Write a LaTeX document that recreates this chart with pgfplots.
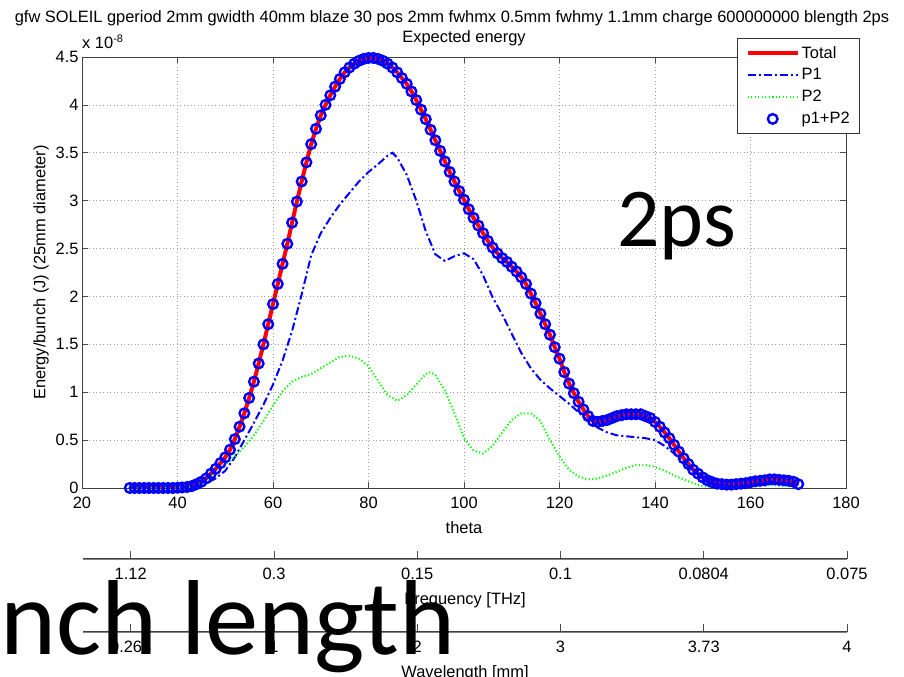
\documentclass[border=0pt]{standalone}
\usepackage{pgfplots}
\pgfplotsset{compat=1.18}
\usepackage{pgfplotstable}
\usepackage{fontspec}
\setmainfont{Liberation Sans}
\newfontfamily\slidefont{Carlito}

% theta vs energy (units of 1e-8 J)
\pgfplotstableread{
x y
30 0
31 0
32 0
33 0
34 0
35 0
36 0
37 0
38 0
39 0
40 0.003
41 0.006
42 0.010
43 0.020
44 0.040
45 0.065
46 0.10
47 0.15
48 0.20
49 0.26
50 0.32
51 0.40
52 0.51
53 0.64
54 0.78
55 0.94
56 1.11
57 1.30
58 1.50
59 1.71
60 1.92
61 2.13
62 2.34
63 2.55
64 2.77
65 2.99
66 3.20
67 3.40
68 3.59
69 3.75
70 3.89
71 4.00
72 4.10
73 4.19
74 4.27
75 4.34
76 4.39
77 4.43
78 4.46
79 4.48
80 4.49
81 4.49
82 4.48
83 4.46
84 4.43
85 4.39
86 4.34
87 4.28
88 4.22
89 4.14
90 4.05
91 3.95
92 3.85
93 3.74
94 3.63
95 3.52
96 3.41
97 3.30
98 3.20
99 3.10
100 3.01
101 2.91
102 2.82
103 2.74
104 2.66
105 2.58
106 2.51
107 2.45
108 2.40
109 2.36
110 2.31
111 2.26
112 2.20
113 2.13
114 2.03
115 1.93
116 1.82
117 1.71
118 1.60
119 1.47
120 1.35
121 1.21
122 1.09
123 0.99
124 0.90
125 0.82
126 0.75
127 0.70
128 0.69
129 0.70
130 0.71
131 0.73
132 0.75
133 0.76
134 0.77
135 0.77
136 0.77
137 0.77
138 0.75
139 0.73
140 0.69
141 0.64
142 0.58
143 0.52
144 0.45
145 0.38
146 0.31
147 0.25
148 0.19
149 0.15
150 0.11
151 0.08
152 0.06
153 0.045
154 0.04
155 0.035
156 0.035
157 0.04
158 0.045
159 0.05
160 0.06
161 0.07
162 0.075
163 0.08
164 0.09
165 0.09
166 0.085
167 0.08
168 0.075
169 0.065
170 0.04
}\totaldata

\pgfplotstableread{
x y
30 0
40 0
44 0.02
46 0.05
48 0.10
50 0.18
52 0.32
54 0.50
56 0.68
58 0.87
60 1.08
62 1.33
64 1.64
66 2.02
68 2.43
70 2.66
72 2.82
74 2.96
76 3.08
78 3.20
80 3.30
82 3.38
84 3.47
85 3.50
86 3.45
88 3.27
90 3.00
92 2.68
94 2.44
96 2.37
98 2.42
100 2.45
102 2.39
104 2.22
106 1.99
108 1.81
110 1.61
112 1.41
114 1.25
116 1.13
118 1.04
120 0.96
122 0.88
124 0.79
126 0.70
128 0.63
130 0.58
132 0.55
134 0.54
136 0.53
138 0.52
140 0.50
142 0.44
144 0.36
146 0.27
148 0.18
150 0.10
152 0.05
154 0.03
156 0.02
160 0.03
164 0.05
168 0.04
170 0.03
}\ponedata

\pgfplotstableread{
x y
30 0
42 0
44 0.02
46 0.08
48 0.15
50 0.24
52 0.33
54 0.43
56 0.55
58 0.70
60 0.86
62 1.01
64 1.11
66 1.16
68 1.19
70 1.25
72 1.31
74 1.37
76 1.38
78 1.35
80 1.27
82 1.12
84 0.97
86 0.91
88 0.97
90 1.08
92 1.19
93 1.21
94 1.18
96 1.02
98 0.78
100 0.52
102 0.39
104 0.36
106 0.44
108 0.58
110 0.71
112 0.78
114 0.78
116 0.70
118 0.50
120 0.33
122 0.19
124 0.12
126 0.09
128 0.10
130 0.13
132 0.17
134 0.21
136 0.24
138 0.24
140 0.22
142 0.18
144 0.13
146 0.09
148 0.05
150 0.02
152 0.01
156 0.005
160 0.02
164 0.03
168 0.02
170 0.01
}\ptwodata

\pgfplotsset{
  mlab/.style={
    scale only axis,
    font=\fontsize{16.5}{19}\selectfont,
    /pgf/number format/assume math mode=true,
    tick align=inside,
    major tick length=6bp,
    tick style={black!70, line width=0.6bp},
    axis line style={black!75, line width=0.7bp},
    xticklabel style={yshift=-6bp},
    xlabel style={yshift=-6bp},
  },
  % a bare horizontal scale: a flat box, ticks only on its lower edge
  extra/.style={
    mlab,
    width=764bp, height=0.3bp,
    xmin=-0.333, xmax=5, ymin=0, ymax=1,
    hide y axis,
    xtick pos=left,
    xtick={0,1,2,3,4,5},
    major tick length=8bp,
  },
}

\begin{document}
\begin{tikzpicture}[x=1bp,y=1bp]
\begin{axis}[
  mlab,
  at={(82bp,189bp)}, anchor=south west,
  width=764bp, height=431bp,
  xmin=20, xmax=180, ymin=0, ymax=4.5,
  xtick={20,40,60,80,100,120,140,160,180},
  ytick={0,0.5,1,1.5,2,2.5,3,3.5,4,4.5},
  yticklabels={0,0.5,1,1.5,2,2.5,3,3.5,4,4.5},
  grid=major,
  major grid style={gray!75, line width=0.6bp, dash pattern=on 1bp off 2.5bp},
  xlabel={theta},
  ylabel={Energy/bunch (J) (25mm diameter)},
  clip mode=individual,
  legend cell align=left,
  legend style={at={(1.0183,1.0441)}, anchor=north east,
    draw=black!80, line width=0.6bp, row sep=5bp,
    inner xsep=8bp, inner ysep=6bp,
    font=\fontsize{16.5}{19}\selectfont},
  legend image code/.code={\draw[mark repeat=2,mark phase=2,#1]
    plot coordinates {(0bp,0bp) (25bp,0bp) (50bp,0bp)};},
]
\addplot[red, line width=4bp] table {\totaldata};
\addlegendentry{Total}
\addplot[blue, line width=2bp, dash pattern=on 8bp off 3bp on 2bp off 3bp] table {\ponedata};
\addlegendentry{P1}
\addplot[green, line width=2bp, dash pattern=on 1.2bp off 2.3bp] table {\ptwodata};
\addlegendentry{P2}
\addplot[only marks, mark=o, mark size=4.8bp, blue, line width=2.4bp] table {\totaldata};
\addlegendentry{p1+P2}
\end{axis}

\begin{axis}[extra, at={(83bp,118bp)}, anchor=south west,
  xticklabels={1.12,0.3,0.15,0.1,0.0804,0.075},
  xlabel={Frequency [THz]}]
\end{axis}

\begin{axis}[extra, at={(83bp,45bp)}, anchor=south west,
  xticklabels={0.268,1,2,3,3.73,4},
  xlabel={Wavelength [mm]}]
\end{axis}

\node[font=\fontsize{16.5}{19}\selectfont] at (452,659) {gfw SOLEIL gperiod 2mm gwidth 40mm blaze 30 pos 2mm fwhmx 0.5mm fwhmy 1.1mm charge 600000000 blength 2ps};
\node[font=\fontsize{16.5}{19}\selectfont] at (464,639) {Expected energy};
\node[font=\fontsize{16.5}{19}\selectfont, anchor=base west, inner sep=0] at (82,628) {x 10\raisebox{6bp}{\fontsize{11}{12}\selectfont -8}};

\node[font=\slidefont\fontsize{84}{90}\selectfont, anchor=base west, inner sep=0] at (617,430) {2ps};
\node[font=\slidefont\fontsize{107}{114}\selectfont, anchor=base west, inner sep=0] at (0,22) {nch length};

\pgfresetboundingbox
\path[use as bounding box] (0,0) rectangle (904,677);
\end{tikzpicture}
\end{document}
